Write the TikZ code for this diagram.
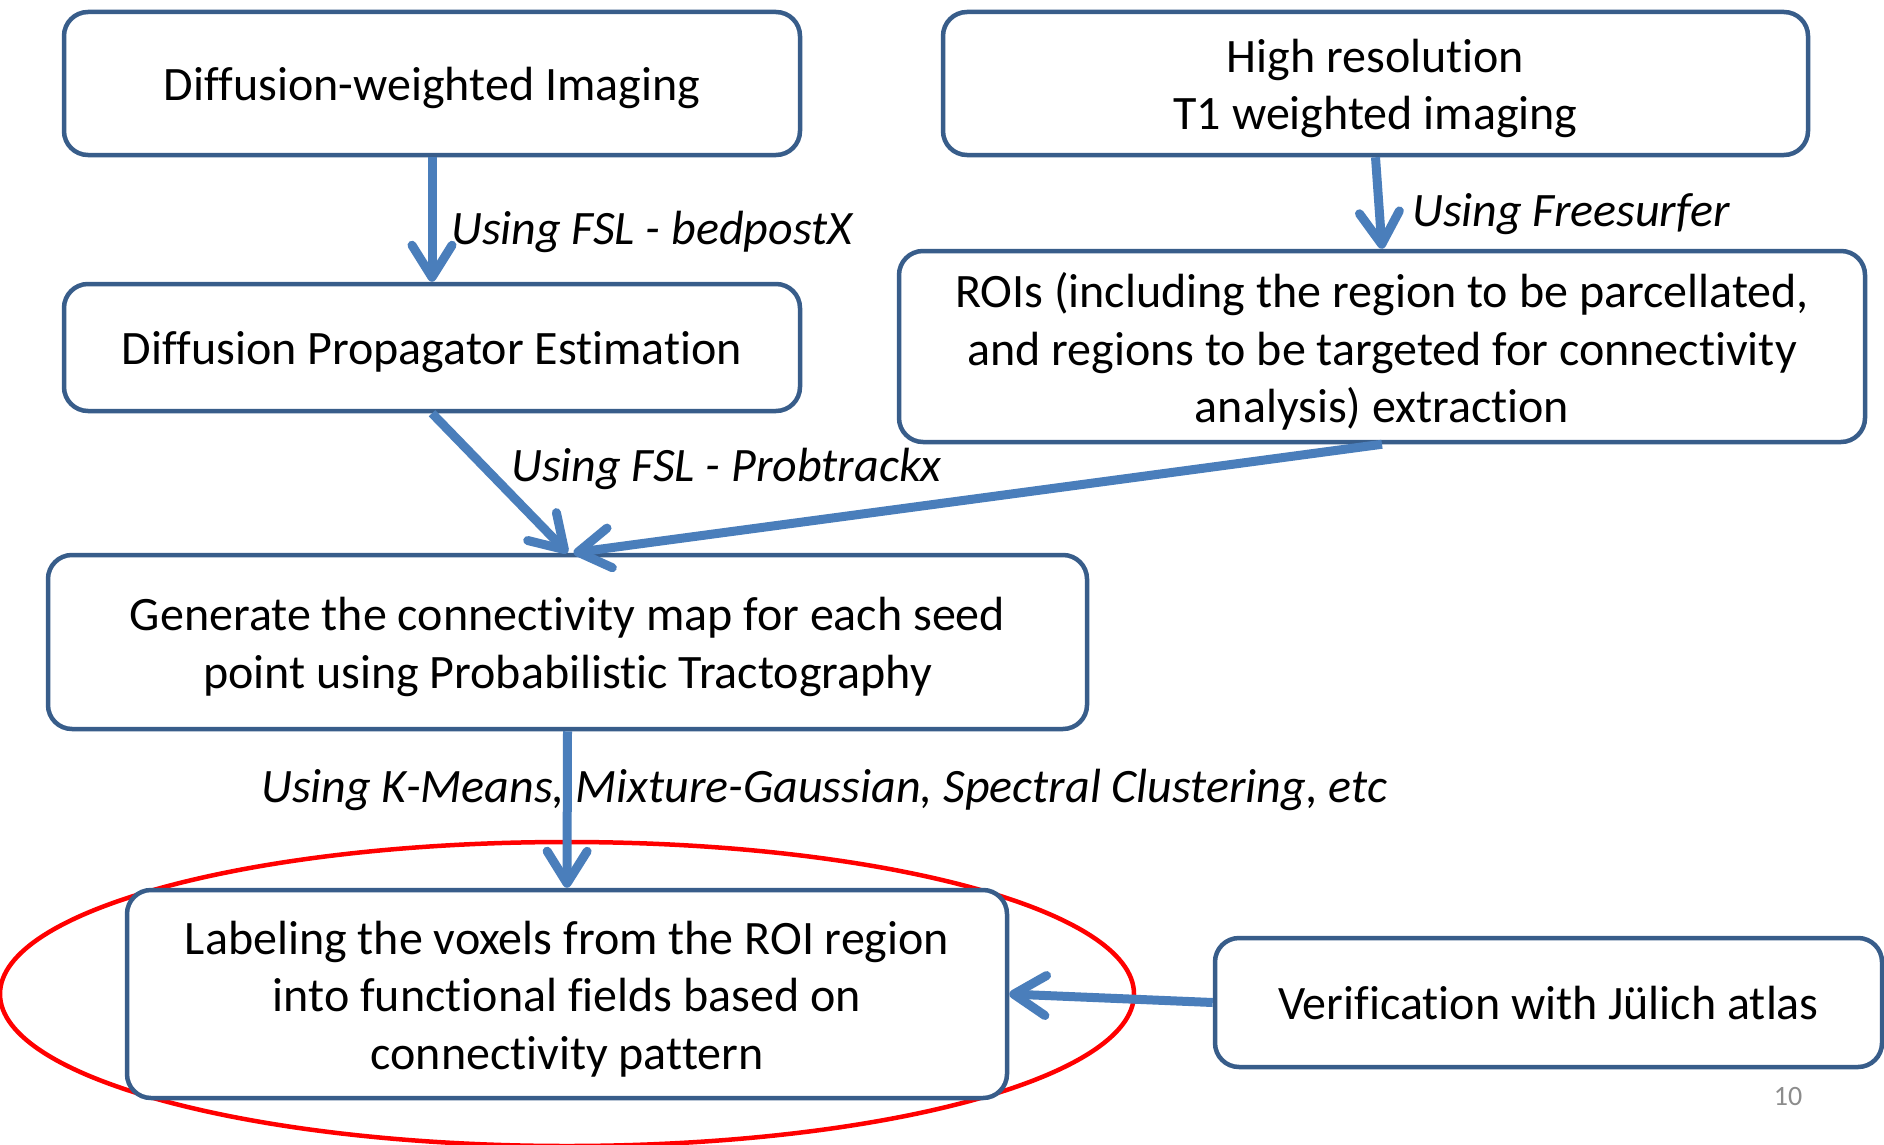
\documentclass[tikz,border=0pt]{standalone}
\usepackage{fontspec}
\setmainfont{Carlito}[Ligatures=NoCommon]
\usetikzlibrary{arrows.meta}
\definecolor{boxline}{HTML}{385D8A}
\definecolor{arrowblue}{HTML}{4A7EBB}
\definecolor{pagegray}{HTML}{8C8C8C}
\begin{document}
\begin{tikzpicture}[x=1pt,y=-1pt,
  box/.style={draw=boxline, line width=4.5pt, rounded corners=24pt, fill=white, inner sep=0pt},
  boxtext/.style={align=center, inner sep=0pt, yshift=-5pt, font=\fontsize{48}{57.7}\selectfont},
  flow/.style={draw=arrowblue, line width=9pt, -{Straight Barb[length=32pt,width=40pt,round]}},
  lbl/.style={font=\fontsize{48}{57.7}\selectfont\itshape, anchor=west, inner sep=0pt}]
\useasboundingbox (0,0) rectangle (1884,1145);
\fill[white] (0,0) rectangle (1884,1145);
% red ellipse
\draw[red, line width=4.5pt] (567,994) ellipse [x radius=567pt, y radius=152pt];
% boxes
\node[box, minimum width=736pt, minimum height=143pt,
  label={[boxtext]center:\strut Diffusion-weighted Imaging}] (b1) at (432,83.5) {};
\node[box, minimum width=865pt, minimum height=143pt,
  label={[boxtext]center:High resolution\\T1 weighted imaging}] (b2) at (1375.5,83.5) {};
\node[box, minimum width=736pt, minimum height=127pt,
  label={[boxtext]center:\strut Diffusion Propagator Estimation}] (b3) at (432,347.5) {};
\node[box, minimum width=966pt, minimum height=191pt,
  label={[boxtext]center:ROIs (including the region to be parcellated,\\and regions to be targeted for connectivity\\analysis) extraction}] (b4) at (1382,346.5) {};
\node[box, minimum width=1039pt, minimum height=174pt,
  label={[boxtext]center:Generate the connectivity map for each seed\\point using Probabilistic Tractography}] (b5) at (567.5,642) {};
\node[box, minimum width=880pt, minimum height=208pt,
  label={[boxtext]center:Labeling the voxels from the ROI region\\into functional fields based on\\connectivity pattern}] (b6) at (567,994) {};
\node[box, minimum width=667pt, minimum height=129pt,
  label={[boxtext]center:\strut Verification with Jülich atlas}] (b7) at (1548.5,1002.5) {};
% labels
\node[lbl] (l1) at (451,232) {Using FSL - bedpostX};
\node[lbl] (l2) at (1412,214) {Using Freesurfer};
\node[lbl] (l3) at (511,469) {Using FSL - Probtrackx};
\node[lbl] (l4) at (261,790) {Using K-Means, Mixture-Gaussian, Spectral Clustering, etc};
% arrows
\draw[flow] (b1.south) -- (b3.north);
\draw[flow] (b2.south) -- (b4.north);
\draw[flow] (b3.south) -- (b5.north);
\draw[flow] (b4.south) -- ([xshift=6pt]b5.north);
\draw[flow] (b5.south) -- (b6.north);
\draw[flow] (b7.west) -- (b6.east);
% page number
\node[font=\fontsize{28}{30}\selectfont, text=pagegray] (pg) at (1788,1096) {10};
\end{tikzpicture}
\end{document}
